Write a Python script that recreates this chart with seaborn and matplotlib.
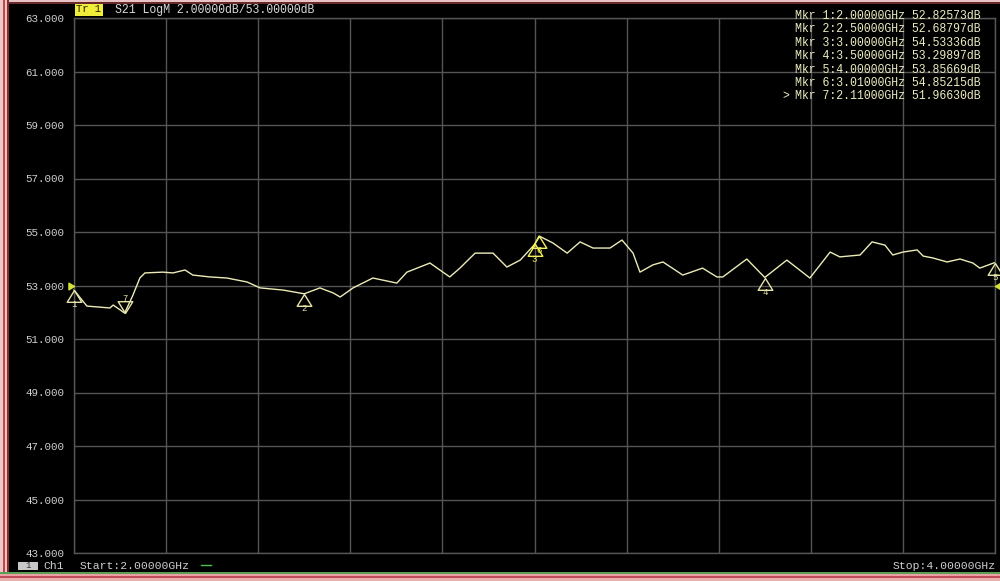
import matplotlib
matplotlib.use("Agg")
import matplotlib.pyplot as plt
from matplotlib.patches import Rectangle
import seaborn as sns
import numpy as np
import pandas as pd

# ---------------- data ----------------
freq_ghz = [2.000, 2.028, 2.050, 2.078, 2.085, 2.110, 2.128, 2.143, 2.154, 2.193,
            2.215, 2.241, 2.258, 2.295, 2.332, 2.376, 2.404, 2.454, 2.500, 2.534,
            2.563, 2.578, 2.606, 2.649, 2.701, 2.723, 2.773, 2.816, 2.838, 2.871,
            2.910, 2.940, 2.969, 3.000, 3.010, 3.040, 3.071, 3.099, 3.127, 3.164,
            3.190, 3.214, 3.229, 3.257, 3.279, 3.322, 3.365, 3.396, 3.409, 3.461,
            3.500, 3.548, 3.598, 3.642, 3.663, 3.707, 3.733, 3.761, 3.778, 3.800,
            3.831, 3.844, 3.865, 3.896, 3.924, 3.952, 3.967, 4.000]
s21_db = [52.83, 52.23, 52.20, 52.16, 52.27, 51.97, 52.64, 53.28, 53.47, 53.50,
          53.47, 53.58, 53.39, 53.32, 53.28, 53.13, 52.91, 52.83, 52.69, 52.91,
          52.72, 52.57, 52.91, 53.28, 53.09, 53.50, 53.84, 53.32, 53.65, 54.21,
          54.21, 53.69, 53.95, 54.53, 54.85, 54.59, 54.21, 54.63, 54.40, 54.40,
          54.70, 54.21, 53.50, 53.77, 53.88, 53.39, 53.65, 53.32, 53.32, 53.99,
          53.30, 53.95, 53.28, 54.25, 54.07, 54.14, 54.63, 54.51, 54.14, 54.25,
          54.33, 54.10, 54.03, 53.88, 53.99, 53.84, 53.65, 53.86]

marker_ids = [1, 2, 3, 4, 5, 6, 7]
marker_freq = [2.00000, 2.50000, 3.00000, 3.50000, 4.00000, 3.01000, 2.11000]
marker_db = [52.82573, 52.68797, 54.53336, 53.29897, 53.85669, 54.85215, 51.96630]

y_ticks = [43, 45, 47, 49, 51, 53, 55, 57, 59, 61, 63]
x_divisions = list(np.linspace(2.0, 4.0, 11))

header_text = "S21 LogM 2.00000dB/53.00000dB"
start_text = "Start:2.00000GHz"
stop_text = "Stop:4.00000GHz"

# ---------------- figure ----------------
W, H = 1000, 581
fig = plt.figure(figsize=(W / 100, H / 100), dpi=100, facecolor="black")
MONO = ["Liberation Mono", "DejaVu Sans Mono"]

def fx(px):
    return px / W

def fy(py):
    return 1 - py / H

ax_left, ax_right, ax_top, ax_bot = 74, 995, 18, 553
ax = fig.add_axes([fx(ax_left), fy(ax_bot), (ax_right - ax_left) / W, (ax_bot - ax_top) / H])
ax.set_facecolor("black")

df = pd.DataFrame({"freq": freq_ghz, "db": s21_db})
sns.lineplot(data=df, x="freq", y="db", ax=ax, color="#ecebb8", lw=1.0, clip_on=False)

ax.set_xlim(2.0, 4.0)
ax.set_ylim(43, 63)
ax.set_xticks(x_divisions)
ax.set_xticklabels([])
ax.set_yticks(y_ticks)
ax.set_yticklabels([f"{v:.3f}" for v in y_ticks], family=MONO, fontsize=7.8, color="#cfcfcf")
ax.tick_params(length=0, pad=7)
ax.set_xlabel("")
ax.set_ylabel("")
ax.grid(True, color="#555555", lw=1.0)
for s in ax.spines.values():
    s.set_color("#555555")
    s.set_linewidth(1.0)

# marker symbols
up_tri = [(0, 0), (-0.62, -1), (0.62, -1), (0, 0)]
down_tri = [(0, 0), (-0.62, 1), (0.62, 1), (0, 0)]
for mid, mf, md in zip(marker_ids, marker_freq, marker_db):
    col = "#f2ef5a" if mid in (3, 6) else "#e6e4a8"
    if mid == 7:
        ax.plot([mf], [md], marker=down_tri, ms=17, mfc="none", mec=col, mew=1.0,
                ls="none", clip_on=False, zorder=5)
        ax.annotate(str(mid), (mf, md), xytext=(0, 10.5), textcoords="offset points",
                    ha="center", va="center", fontsize=6.5, color=col, family=MONO)
    else:
        ax.plot([mf], [md], marker=up_tri, ms=17, mfc="none", mec=col, mew=1.0,
                ls="none", clip_on=False, zorder=5)
        ax.annotate(str(mid), (mf, md), xytext=(0, -10.5), textcoords="offset points",
                    ha="center", va="center", fontsize=6.5, color=col, family=MONO,
                    annotation_clip=False)

# reference level pointers
ax.plot([2.0], [53.0], marker=[(0, 0), (-1, 0.6), (-1, -0.6), (0, 0)], ms=8,
        color="#d6e03a", ls="none", clip_on=False, zorder=6)
ax.plot([4.0], [53.0], marker=[(0, 0), (1, 0.6), (1, -0.6), (0, 0)], ms=7,
        color="#d6e03a", ls="none", clip_on=False, zorder=6)

# header
fig.patches.append(Rectangle((fx(75), fy(16)), 28 / W, 13 / H, transform=fig.transFigure,
                             facecolor="#f0ee3a", edgecolor="none"))
fig.text(fx(89), fy(9.5), "Tr 1", ha="center", va="center", fontsize=7.6, color="#202000", family=MONO)
fig.text(fx(115), fy(9.5), header_text, ha="left", va="center", fontsize=8.3, color="#d8d8d8", family=MONO)

# marker table
for i, (mid, mf, md) in enumerate(zip(marker_ids, marker_freq, marker_db)):
    y = 16 + i * 13.4
    fig.text(fx(795), fy(y), f"Mkr {mid}:{mf:.5f}GHz {md:.5f}dB", ha="left", va="center",
             fontsize=8.3, color="#ecebc0", family=MONO)
fig.text(fx(786), fy(16 + 6 * 13.4), ">", ha="center", va="center", fontsize=8.3,
         color="#ecebc0", family=MONO)

# bottom status bar
fig.patches.append(Rectangle((fx(18), fy(570)), 20 / W, 8 / H, transform=fig.transFigure,
                             facecolor="#c8c8c8", edgecolor="none"))
fig.text(fx(28), fy(566), "1", ha="center", va="center", fontsize=6.5, color="#303030", family=MONO)
fig.text(fx(43), fy(566), "Ch1", ha="left", va="center", fontsize=8.2, color="#cfcfcf", family=MONO)
fig.text(fx(80), fy(566), start_text, ha="left", va="center", fontsize=8.2, color="#cfcfcf", family=MONO)
fig.lines.append(plt.Line2D([fx(201), fx(211)], [fy(565), fy(565)], transform=fig.transFigure,
                            color="#50c050", lw=1.0))
fig.text(fx(996), fy(566), stop_text, ha="right", va="center", fontsize=8.2, color="#cfcfcf", family=MONO)

# window frame
def frame(x0, y0, x1, y1, c):
    fig.patches.append(Rectangle((fx(x0), fy(y1)), (x1 - x0) / W, (y1 - y0) / H,
                                 transform=fig.transFigure, facecolor=c, edgecolor="none", zorder=10))

frame(0, 0, 1000, 2, "#e8c4c4")
frame(0, 2, 1000, 4, "#6a2a2a")
frame(0, 0, 3, 581, "#ecc8c8")
frame(3, 0, 4.5, 581, "#c04848")
frame(4.5, 0, 7, 581, "#f0c4c4")
frame(7, 0, 9, 581, "#8a2a2a")
frame(0, 572, 1000, 573.5, "#58a058")
frame(0, 573.5, 1000, 576, "#e8a0a0")
frame(0, 576, 1000, 578, "#c04a5a")
frame(0, 578, 1000, 581, "#eab0b0")

fig.savefig("out.png", dpi=100, facecolor="black")
